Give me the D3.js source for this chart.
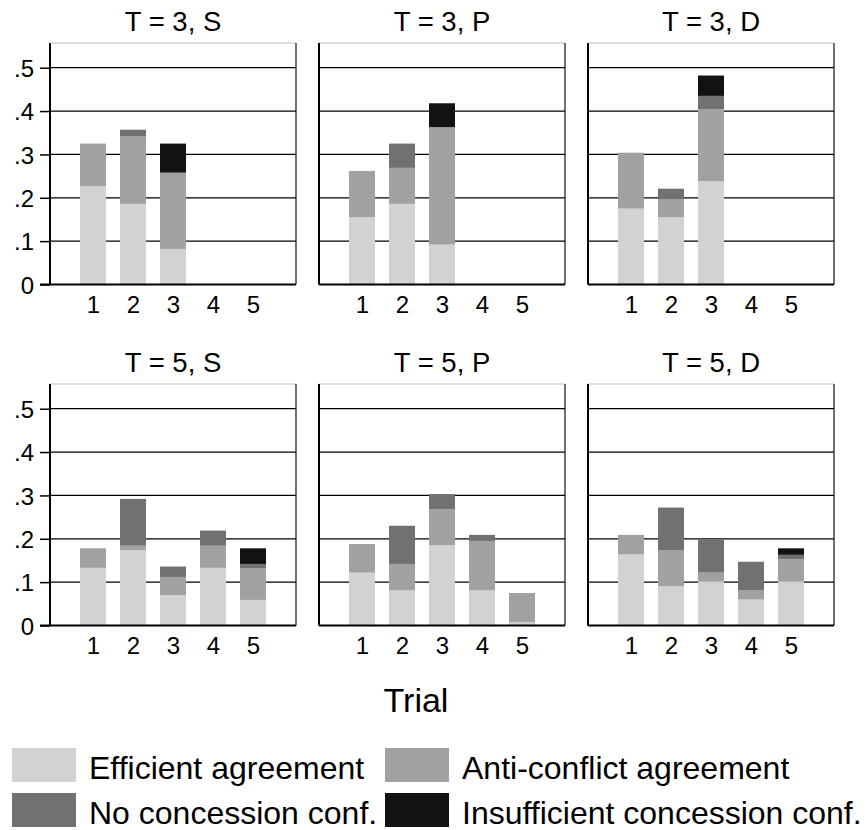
<!DOCTYPE html>
<html>
<head>
<meta charset="utf-8">
<script src="https://cdn.jsdelivr.net/npm/d3@7"></script>
<style>
  body { margin: 0; background: #fff; }
  svg { font-family: "Liberation Sans", Arial, sans-serif; }
</style>
</head>
<body>
<svg id="chart" width="868" height="830"></svg>
<script>
// data (share of groups per trial)
const trials = [1, 2, 3, 4, 5];
const titles = ["T = 3, S", "T = 3, P", "T = 3, D", "T = 5, S", "T = 5, P", "T = 5, D"];
const yTicks = [0, .1, .2, .3, .4, .5];
const yTickLabels = ["0", ".1", ".2", ".3", ".4", ".5"];

const efficient = [
  [.227, .186, .082, 0, 0],
  [.155, .186, .092, 0, 0],
  [.175, .155, .238, 0, 0],
  [.133, .174, .070, .133, .059],
  [.122, .081, .185, .081, .008],
  [.164, .091, .102, .060, .102]
];
const antiConflict = [
  [.098, .156, .176, 0, 0],
  [.107, .083, .271, 0, 0],
  [.129, .041, .166, 0, 0],
  [.045, .010, .042, .051, .073],
  [.066, .061, .083, .114, .067],
  [.045, .083, .020, .021, .051]
];
const noConcession = [
  [0, .015, 0, 0, 0],
  [0, .056, 0, 0, 0],
  [0, .025, .031, 0, 0],
  [0, .108, .024, .035, .010],
  [0, .088, .035, .014, 0],
  [0, .098, .077, .066, .010]
];
const insufficient = [
  [0, 0, .067, 0, 0],
  [0, 0, .055, 0, 0],
  [0, 0, .047, 0, 0],
  [0, 0, 0, 0, .036],
  [0, 0, 0, 0, 0],
  [0, 0, 0, 0, .015]
];

const keys = ["eff", "anti", "nocon", "insuff"];
const legendLabels = ["Efficient agreement", "Anti-conflict agreement", "No concession conf.", "Insufficient concession conf."];
const colors = ["#d2d2d2", "#a1a1a1", "#717171", "#121212"];

const svg = d3.select("#chart");
const color = d3.scaleOrdinal().domain(keys).range(colors);

const panelW = 246, panelH = 241.5;
const colX = [50, 319, 588];
const rowY = [43, 384];

const x = d3.scalePoint().domain(trials).range([0, panelW]).padding(1.075);
const y = d3.scaleLinear().domain([0, 0.557]).range([panelH, 0]);
const barW = 26;

const stack = d3.stack().keys(keys);

titles.forEach(function(title, p) {
  const col = p % 3, row = Math.floor(p / 3);
  const g = svg.append("g")
    .attr("transform", "translate(" + colX[col] + "," + rowY[row] + ")");

  const rows = trials.map(function(t, i) {
    return { trial: t, eff: efficient[p][i], anti: antiConflict[p][i],
             nocon: noConcession[p][i], insuff: insufficient[p][i] };
  });

  // frame: light top, dark right
  g.append("line").attr("x1", 0).attr("x2", panelW).attr("y1", 0).attr("y2", 0)
    .attr("stroke", "#bdbdbd").attr("stroke-width", 1);
  g.append("line").attr("x1", panelW).attr("x2", panelW).attr("y1", 0).attr("y2", panelH)
    .attr("stroke", "#111").attr("stroke-width", 1.2);

  // gridlines
  g.selectAll(".grid").data(yTicks.slice(1)).enter().append("line")
    .attr("x1", 0).attr("x2", panelW)
    .attr("y1", function(d) { return y(d); }).attr("y2", function(d) { return y(d); })
    .attr("stroke", "#000").attr("stroke-width", 1.3);

  // stacked bars
  const layers = stack(rows);
  g.selectAll(".layer").data(layers).enter().append("g")
    .attr("fill", function(d) { return color(d.key); })
    .selectAll("rect").data(function(d) { return d; }).enter().append("rect")
    .attr("x", function(d) { return x(d.data.trial) - barW / 2; })
    .attr("width", barW)
    .attr("y", function(d) { return y(d[1]); })
    .attr("height", function(d) { return y(d[0]) - y(d[1]); });

  // y axis (labels only on first column)
  const yAxis = d3.axisLeft(y).tickValues(yTicks).tickSize(col === 0 ? 10 : 0)
    .tickFormat(function(d, i) { return col === 0 ? yTickLabels[i] : ""; });
  const ya = g.append("g").call(yAxis);
  ya.select(".domain").remove();
  ya.selectAll(".tick line").attr("stroke", "#000").attr("stroke-width", 1.5);
  ya.selectAll("text").attr("font-size", 24).attr("fill", "#000")
    .attr("x", -16).attr("dy", "0.36em");
  g.append("line").attr("x1", 0).attr("x2", 0).attr("y1", 0).attr("y2", panelH)
    .attr("stroke", "#000").attr("stroke-width", 2);

  // x axis
  const xa = g.append("g").attr("transform", "translate(0," + panelH + ")")
    .call(d3.axisBottom(x).tickSize(0).tickPadding(9));
  xa.select(".domain").remove();
  xa.selectAll("text").attr("font-size", 24).attr("fill", "#000").attr("dy", "0.8em");
  g.append("line").attr("x1", col === 0 ? -10 : 0).attr("x2", panelW)
    .attr("y1", panelH).attr("y2", panelH)
    .attr("stroke", "#000").attr("stroke-width", 2);

  // panel title
  g.append("text").attr("x", panelW / 2).attr("y", -12)
    .attr("text-anchor", "middle").attr("font-size", 27.5).attr("fill", "#000")
    .text(title);
});

// axis title
svg.append("text").attr("x", 416).attr("y", 712)
  .attr("text-anchor", "middle").attr("font-size", 34).attr("fill", "#000")
  .text("Trial");

// legend
const legX = [12, 385], legY = [748, 793];
const leg = svg.selectAll(".leg").data(keys).enter().append("g")
  .attr("transform", function(d, i) {
    return "translate(" + legX[i % 2] + "," + legY[Math.floor(i / 2)] + ")";
  });
leg.append("rect").attr("width", 64).attr("height", 34)
  .attr("fill", function(d) { return color(d); });
leg.append("text").attr("x", 77).attr("y", 31)
  .attr("font-size", 32).attr("fill", "#000")
  .text(function(d, i) { return legendLabels[i]; });
</script>
</body>
</html>
